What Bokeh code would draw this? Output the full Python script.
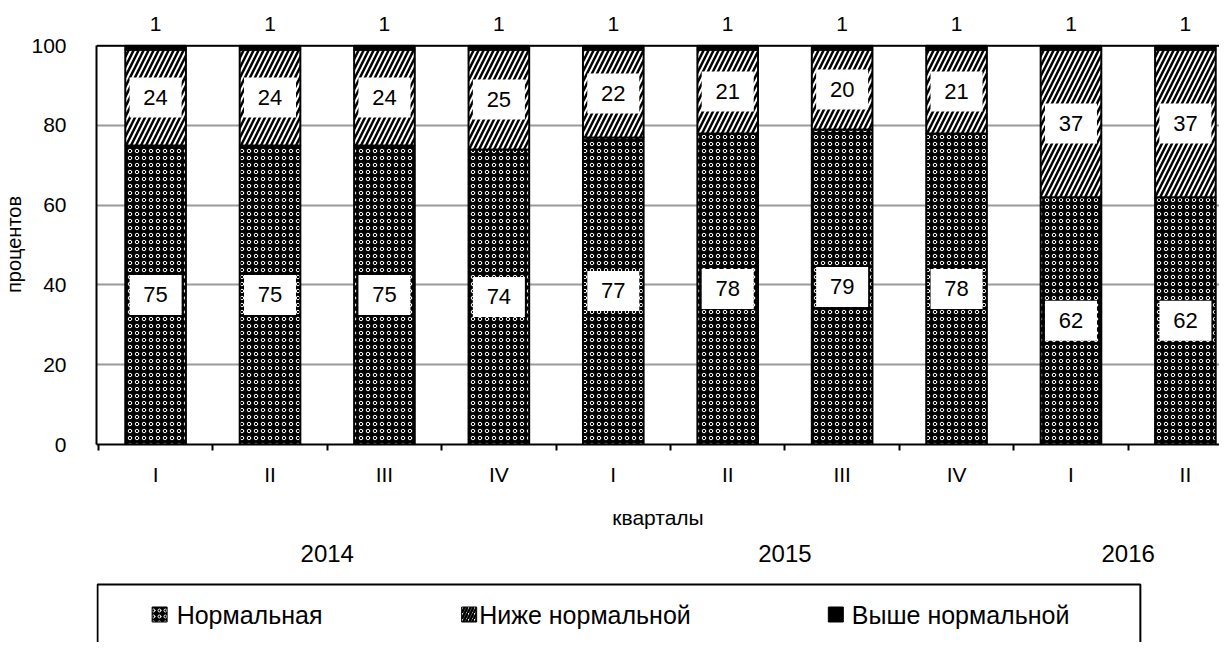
import numpy as np
from bokeh.plotting import figure
from bokeh.layouts import column
from bokeh.models import (Range1d, LinearAxis, FixedTicker, CustomJSTickFormatter,
                          ColumnDataSource, LabelSet, Span)
from bokeh.core.properties import value
from bokeh.embed import file_html
from bokeh.resources import INLINE

# ---- data ----
quarters = ["I", "II", "III", "IV", "I", "II", "III", "IV", "I", "II"]
years = ["2014", "2015", "2016"]
year_counts = [4, 4, 2]
normal = [75, 75, 75, 74, 77, 78, 79, 78, 62, 62]
below_normal = [24, 24, 24, 25, 22, 21, 20, 21, 37, 37]
above_normal = [1, 1, 1, 1, 1, 1, 1, 1, 1, 1]
series_names = ["Нормальная", "Ниже нормальной", "Выше нормальной"]
y_ticks = [0, 20, 40, 60, 80, 100]

FONT = "Liberation Sans"

# series styles
STY_N = dict(fill_color="black", hatch_pattern="ring", hatch_color="white",
             hatch_scale=7, hatch_weight=1.0, line_color="black", line_width=2)
STY_B = dict(fill_color="white", hatch_pattern="right_diagonal_line", hatch_color="black",
             hatch_scale=10, hatch_weight=2.5, line_color="black", line_width=2)
STY_A = dict(fill_color="black", line_color="black", line_width=2)

x = np.arange(len(quarters), dtype=float)
n = np.array(normal, dtype=float)
b = np.array(below_normal, dtype=float)
a = np.array(above_normal, dtype=float)

src = ColumnDataSource(dict(
    x=x,
    n0=np.zeros_like(n), n1=n,
    b0=n, b1=n + b,
    a0=n + b, a1=n + b + a,
    n_lab=[str(v) for v in normal], n_y=n / 2,
    b_lab=[str(v) for v in below_normal], b_y=n + b / 2,
))

MAIN_H, LEG_H, FIG_W, LEFT = 577, 65, 1219, 90
FRAME_L, FRAME_R = 98, 1219   # page x of the plotting frame

p = figure(width=FIG_W, height=MAIN_H, output_backend="svg", toolbar_location=None,
           x_range=Range1d(-0.5165, 9.298), y_range=Range1d(0, 100.3),
           min_border_left=LEFT, min_border_right=0, min_border_top=44, min_border_bottom=133,
           x_axis_type=None)
p.outline_line_color = None
p.background_fill_color = "white"
p.border_fill_color = "white"

# grid
p.ygrid.ticker = FixedTicker(ticks=y_ticks)
p.ygrid.grid_line_color = "#9a9a9a"
p.ygrid.grid_line_width = 2
p.xgrid.grid_line_color = None
p.add_layout(Span(location=100, dimension="width", line_color="black", line_width=2))

# y axis
yax = p.yaxis[0]
yax.ticker = FixedTicker(ticks=y_ticks)
yax.bounds = (0, 100)
yax.axis_label = "процентов"
yax.axis_label_text_font = FONT
yax.axis_label_text_font_size = "20px"
yax.axis_label_text_font_style = "normal"
yax.axis_label_text_color = "black"
yax.axis_label_standoff = 3
yax.major_label_text_font = FONT
yax.major_label_text_font_size = "21px"
yax.major_label_text_color = "black"
yax.major_label_standoff = 30
yax.major_tick_out = 0
yax.major_tick_in = 0
yax.minor_tick_line_color = None
yax.axis_line_color = "black"
yax.axis_line_width = 2

# top: values of "Выше нормальной" written above each bar
topax = LinearAxis(
    ticker=FixedTicker(ticks=list(x)),
    formatter=CustomJSTickFormatter(args=dict(labels=[str(v) for v in above_normal]),
                                    code="const i = Math.round(tick); return (i >= 0 && i < labels.length) ? labels[i] : '';"),
)
topax.axis_line_color = None
topax.major_tick_line_color = None
topax.minor_tick_line_color = None
topax.major_label_text_font = FONT
topax.major_label_text_font_size = "21px"
topax.major_label_text_color = "black"
topax.major_label_standoff = 8
p.add_layout(topax, "above")

# x axis: quarters (labels at centers, boundary ticks as minor ticks)
xax = LinearAxis(
    ticker=FixedTicker(ticks=list(x), minor_ticks=list(np.arange(-0.5, len(quarters), 1.0))),
    formatter=CustomJSTickFormatter(args=dict(labels=quarters),
                                    code="const i = Math.round(tick); return (i >= 0 && i < labels.length) ? labels[i] : '';"),
)
xax.axis_label = "кварталы"
xax.axis_label_text_font = FONT
xax.axis_label_text_font_size = "21px"
xax.axis_label_text_font_style = "normal"
xax.axis_label_text_color = "black"
xax.axis_label_standoff = 17
xax.major_label_text_font = FONT
xax.major_label_text_font_size = "21px"
xax.major_label_text_color = "black"
xax.major_label_standoff = 12
xax.major_tick_out = 0
xax.major_tick_in = 0
xax.minor_tick_out = 6
xax.minor_tick_in = 0
xax.minor_tick_line_color = "black"
xax.minor_tick_line_width = 2
xax.axis_line_color = "black"
xax.axis_line_width = 2
p.add_layout(xax, "below")

# year axis
starts = np.cumsum([0] + year_counts[:-1])
year_pos = [float(s + (c - 1) / 2) for s, c in zip(starts, year_counts)]
yrax = LinearAxis(
    ticker=FixedTicker(ticks=year_pos),
    formatter=CustomJSTickFormatter(args=dict(pos=year_pos, labels=years),
                                    code="for (let i = 0; i < pos.length; i++) { if (Math.abs(pos[i] - tick) < 1e-6) return labels[i]; } return '';"),
)
yrax.axis_line_color = None
yrax.major_tick_line_color = None
yrax.minor_tick_line_color = None
yrax.major_label_text_font = FONT
yrax.major_label_text_font_size = "24px"
yrax.major_label_text_color = "black"
yrax.major_label_standoff = 7
p.add_layout(yrax, "below")

# bars
W = 0.53
r_n = p.vbar(x="x", bottom="n0", top="n1", width=W, source=src, **STY_N)
r_b = p.vbar(x="x", bottom="b0", top="b1", width=W, source=src, **STY_B)
r_a = p.vbar(x="x", bottom="a0", top="a1", width=W, source=src, **STY_A)

# value labels with white boxes
for ycol, tcol in (("n_y", "n_lab"), ("b_y", "b_lab")):
    p.rect(x="x", y=ycol, width=52, height=40, width_units="screen", height_units="screen",
           source=src, fill_color="white", line_color=None)
    p.add_layout(LabelSet(x="x", y=ycol, text=tcol, source=src,
                          text_align="center", text_baseline="middle",
                          text_font=value(FONT), text_font_size=value("22px"), text_color="black"))

# ---- legend figure (its frame lines up with the chart frame; x in page pixels) ----
lg = figure(width=FIG_W, height=LEG_H, output_backend="svg", toolbar_location=None,
            x_range=Range1d(FRAME_L, FRAME_R), y_range=Range1d(0, LEG_H),
            min_border_left=LEFT, min_border_right=0, min_border_top=0, min_border_bottom=0,
            x_axis_type=None, y_axis_type=None)
lg.outline_line_color = None
lg.grid.grid_line_color = None
lg.background_fill_color = "white"
lg.border_fill_color = "white"

lg.quad(left=[FRAME_L + 1], right=[1140], top=[LEG_H - 7], bottom=[-20],
        fill_color="white", line_color="black", line_width=2)
icon_x = [161, 470, 836]
text_x = [178, 480, 852]
icon_y = LEG_H - 37
for i, sty in enumerate((STY_N, STY_B, STY_A)):
    s = dict(sty)
    s["line_width"] = 1
    if "hatch_scale" in s:
        s["hatch_scale"] = 6
    lg.rect(x=[icon_x[i]], y=[icon_y], width=15, height=15,
            width_units="screen", height_units="screen", **s)
lg.text(x=text_x, y=[icon_y] * 3, text=series_names,
        text_align="left", text_baseline="middle",
        text_font=value(FONT), text_font_size=value("25px"), text_color="black")

layout = column(p, lg, spacing=0)
open("out.html", "w").write(file_html(layout, INLINE))
